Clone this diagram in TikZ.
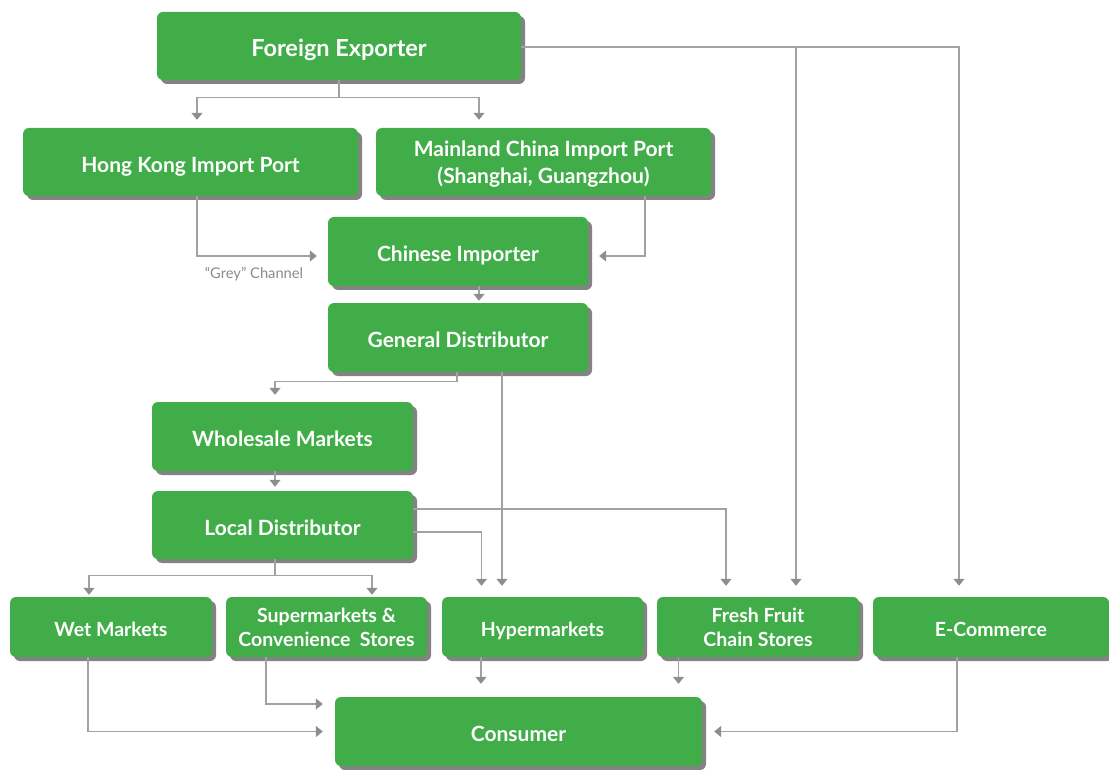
\documentclass[tikz,border=0pt]{standalone}
\usepackage{fontspec}
\setmainfont{Lato}
\newfontfamily\boxfont{Lato}
\usetikzlibrary{shadows,arrows.meta,calc}
\definecolor{boxgreen}{HTML}{41AD49}
\definecolor{linegrey}{HTML}{A2A2A4}
\definecolor{tipgrey}{HTML}{8E8E90}
\definecolor{labelgrey}{HTML}{8A8A8A}
\tikzset{
  box/.style={draw=none, fill=boxgreen, rounded corners=6pt, align=center,
    text=white, font=\boxfont\bfseries\fontsize{21}{27}\selectfont,
    inner sep=0pt, text depth=0pt, anchor=center,
    execute at begin node={\rule{0pt}{\dimexpr0.72em+5pt\relax}},
    drop shadow={shadow xshift=4pt, shadow yshift=-4pt, opacity=.65, fill=black!75}},
  bigbox/.style={box, minimum width=364pt, minimum height=68pt,
    font=\boxfont\bfseries\fontsize{23.5}{28}\selectfont},
  midbox/.style={box, minimum width=260pt, minimum height=69pt},
  portbox/.style={box, minimum width=335pt, minimum height=68pt},
  rowbox/.style={box, minimum width=202pt, minimum height=60pt,
    font=\boxfont\bfseries\fontsize{19.5}{24}\selectfont},
  arr/.style={draw=linegrey, line width=1.3pt,
    -{Triangle[width=11pt,length=7pt,color=tipgrey]}, shorten >=11pt},
  note/.style={text=labelgrey, font=\boxfont\fontsize{14.7}{16}\selectfont, inner sep=0pt}
}
\begin{document}
\begin{tikzpicture}[x=1pt,y=-1pt]
\useasboundingbox (0,0) rectangle (1109,770);

\node[bigbox] (FE) at (339,46) {Foreign Exporter};
\node[portbox] (HK) at (190.5,162) {Hong Kong Import Port};
\node[portbox] (MC) at (543.5,162) {Mainland China Import Port\\(Shanghai, Guangzhou)};
\node[midbox] (CI) at (458,251.5) {Chinese Importer};
\node[midbox] (GD) at (458,337.5) {General Distributor};
\node[midbox, minimum width=261pt] (WM) at (282.5,436.5) {Wholesale Markets};
\node[midbox, minimum width=261pt, minimum height=68pt] (LD) at (282.5,525) {Local Distributor};
\node[rowbox] (WT) at (111,627) {Wet Markets};
\node[rowbox, minimum width=201pt] (SU) at (326.5,627) {Supermarkets \&\\Convenience\ \ Stores};
\node[rowbox, minimum width=201pt] (HY) at (542.5,627) {Hypermarkets};
\node[rowbox] (FR) at (758,627) {Fresh Fruit\\Chain Stores};
\node[rowbox, minimum width=236pt] (EC) at (991,627) {E-Commerce};
\node[box, minimum width=367pt, minimum height=69pt] (CO) at (518.5,731.5) {Consumer};

\node[note] (GC) at (254,274) {“Grey” Channel};

\coordinate (fe1) at ([yshift=-1pt]FE.east);
\coordinate (fr2) at ([xshift=38pt]FR.north);
\coordinate (hy1) at ([xshift=-40.5pt]HY.north);
\coordinate (hy3) at ([xshift=-61.5pt]HY.south);
\coordinate (fr3) at ([xshift=-79.5pt]FR.south);

% Foreign exporter
\draw[arr, shorten >=8pt] (FE.south) -- ++(0,17) -| ([xshift=6.5pt]HK.north);
\draw[arr, shorten >=8pt] (FE.south) -- ++(0,17) -| ([xshift=-64.5pt]MC.north);
\draw[arr] (fe1) -| ([xshift=-32pt]EC.north);
\draw[arr] (fr2 |- fe1) -- (fr2);

% ports to importer
\draw[arr] ([xshift=6.5pt]HK.south) |- ([yshift=-4.5pt]CI.west);
\draw[arr] ([xshift=101.5pt]MC.south) |- ([yshift=-4.5pt]CI.east);

% importer to distributor
\draw[arr, shorten >=2pt] ([xshift=21pt]CI.south) -- ([xshift=21pt]GD.north);

% general distributor
\draw[arr, shorten >=7pt] ([xshift=-1pt]GD.south) -- ++(0,9) -| ([xshift=-7.5pt]WM.north);
\draw[arr] (hy1 |- GD.south) -- (hy1);

% wholesale to local
\draw[arr, shorten >=4pt] ([xshift=-7.5pt]WM.south) -- ([xshift=-7.5pt]LD.north);

% local distributor
\draw[arr] ([yshift=16pt]LD.east) -| ([xshift=-32pt]FR.north);
\draw[arr] ([yshift=-7pt]LD.east) -| ([xshift=-61pt]HY.north);
\draw[arr, shorten >=2pt] ([xshift=-7.5pt]LD.south) -- ++(0,16) -| ([xshift=-22pt]WT.north);
\draw[arr, shorten >=2pt] ([xshift=-7.5pt]LD.south) -- ++(0,16) -| ([xshift=45.5pt]SU.north);

% to consumer
\draw[arr, shorten >=12pt] ([xshift=-23pt]WT.south) |- (CO.west);
\draw[arr, shorten >=12pt] ([xshift=-60.5pt]SU.south) |- ([yshift=27.5pt]CO.west);
\draw[arr, shorten >=13pt] (hy3) -- (hy3 |- CO.north);
\draw[arr, shorten >=13pt] (fr3) -- (fr3 |- CO.north);
\draw[arr, shorten >=12pt] ([xshift=-34pt]EC.south) |- (CO.east);
\end{tikzpicture}
\end{document}
